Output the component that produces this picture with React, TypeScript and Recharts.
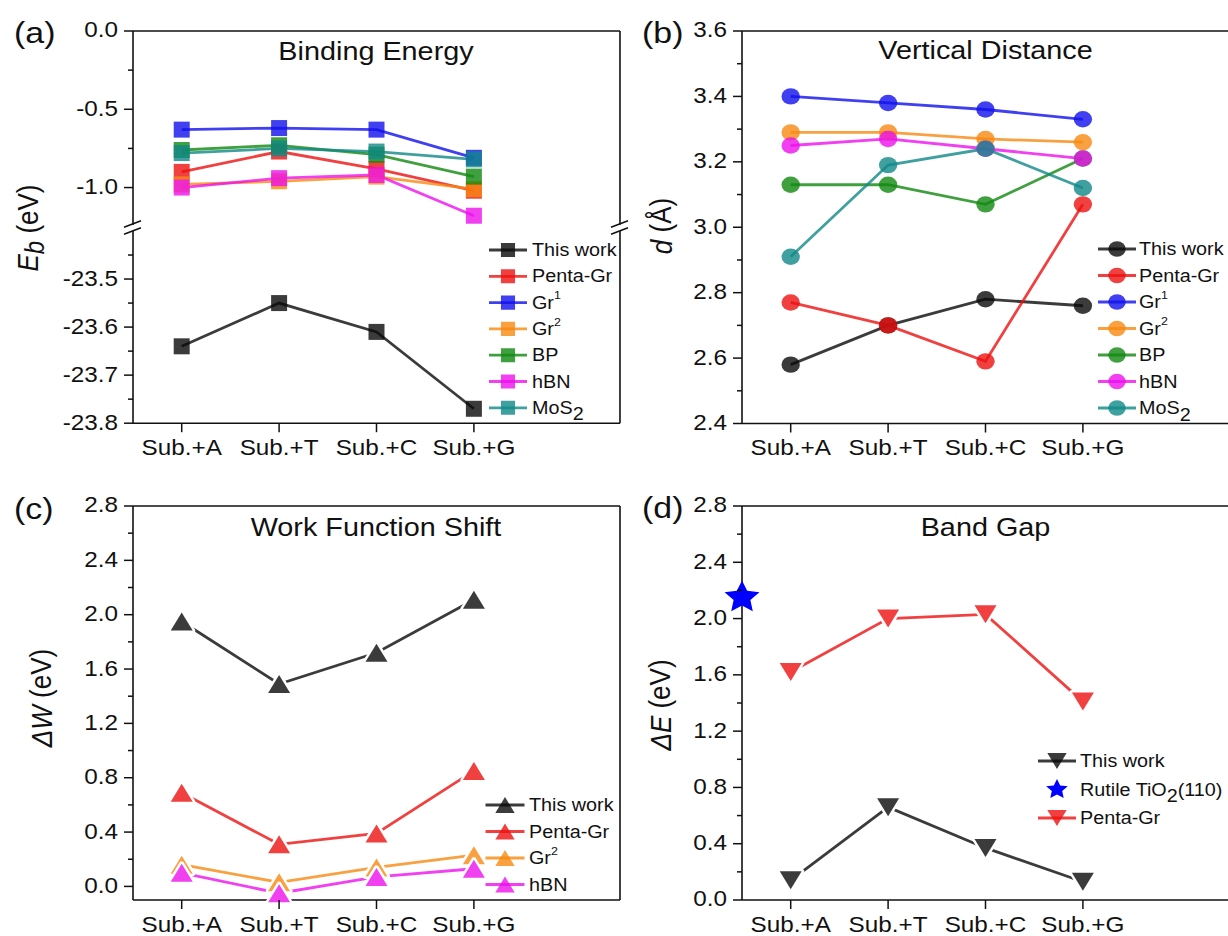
import React from 'react';
import { LineChart, Line, XAxis, YAxis, ReferenceLine, Legend } from 'recharts';

const FONT = '"Liberation Sans", Arial, Helvetica, sans-serif';
const SX = 1.13; // the source figure is stretched a bit horizontally, text too
const INK = '#111111';

const categories = ['Sub.+A', 'Sub.+T', 'Sub.+C', 'Sub.+G'];
const xPositions = [1, 2, 3, 4];

// (a) binding energy, eV
const ebThisWork = [-23.64, -23.55, -23.61, -23.77];
const ebPentaGr = [-0.9, -0.77, -0.88, -1.02];
const ebGr1 = [-0.63, -0.62, -0.63, -0.81];
const ebGr2 = [-0.98, -0.96, -0.93, -1.01];
const ebBP = [-0.76, -0.73, -0.79, -0.93];
const ebHBN = [-1.0, -0.94, -0.92, -1.18];
const ebMoS2 = [-0.78, -0.75, -0.77, -0.82];

// (b) vertical distance, angstrom
const vdThisWork = [2.58, 2.7, 2.78, 2.76];
const vdPentaGr = [2.77, 2.7, 2.59, 3.07];
const vdGr1 = [3.4, 3.38, 3.36, 3.33];
const vdGr2 = [3.29, 3.29, 3.27, 3.26];
const vdBP = [3.13, 3.13, 3.07, 3.21];
const vdHBN = [3.25, 3.27, 3.24, 3.21];
const vdMoS2 = [2.91, 3.19, 3.24, 3.12];

// (c) work function shift, eV
const wfThisWork = [1.95, 1.49, 1.72, 2.11];
const wfPentaGr = [0.69, 0.31, 0.39, 0.85];
const wfGr2 = [0.16, 0.03, 0.14, 0.23];
const wfHBN = [0.1, -0.05, 0.07, 0.13];

// (d) band gap, eV
const bgThisWork = [0.14, 0.66, 0.37, 0.13];
const bgPentaGr = [1.62, 2.0, 2.03, 1.41];
const bgRutile = [{ x: 0.5, rutile: 2.15 }];

// y ticks (all) and the labelled ones
const ebUpperTicks = [-1.0, -0.75, -0.5, -0.25, 0];
const ebUpperMajor = [-1.0, -0.5, 0];
const ebLowerTicks = [-23.8, -23.75, -23.7, -23.65, -23.6, -23.55, -23.5, -23.45];
const ebLowerMajor = [-23.8, -23.7, -23.6, -23.5];
const vdTicks = [2.4, 2.5, 2.6, 2.7, 2.8, 2.9, 3.0, 3.1, 3.2, 3.3, 3.4, 3.5, 3.6];
const vdMajor = [2.4, 2.6, 2.8, 3.0, 3.2, 3.4, 3.6];
const evTicks = [0, 0.2, 0.4, 0.6, 0.8, 1.0, 1.2, 1.4, 1.6, 1.8, 2.0, 2.2, 2.4, 2.6, 2.8];
const evMajor = [0, 0.4, 0.8, 1.2, 1.6, 2.0, 2.4, 2.8];

const COL = {
  thisWork: '#0a0a0a',
  penta: '#ec1010',
  gr1: '#1010ec',
  gr2: '#f78810',
  bp: '#108810',
  hbn: '#ec10ec',
  mos2: '#108888',
  rutile: '#0000ff',
};

type Shape = 'square' | 'circle' | 'triUp' | 'triDown' | 'star';

interface SeriesDef {
  key: string;
  label: React.ReactNode;
  color: string;
  shape: Shape;
  values?: number[];
  points?: Record<string, number>[];
  line?: boolean;
  solid?: boolean;
}

interface LegendSpec {
  items: SeriesDef[];
  markerX: number;
  textX: number;
  halfLine: number;
  firstY: number;
  step: number;
  scale: number;
}

const sup1 = (
  <>
    Gr<tspan dy={-8} fontSize={11}>1</tspan>
  </>
);
const sup2 = (
  <>
    Gr<tspan dy={-8} fontSize={11}>2</tspan>
  </>
);
const mos2Label = (
  <>
    MoS<tspan dy={6}>2</tspan>
  </>
);
const rutileLabel = (
  <>
    Rutile TiO<tspan dy={6}>2</tspan>
    <tspan dy={-6}>(110)</tspan>
  </>
);

function markerPath(shape: Shape, cx: number, cy: number, s: number) {
  if (shape === 'square') {
    const h = 8 * s;
    return `M${cx - h},${cy - h}h${2 * h}v${2 * h}h${-2 * h}Z`;
  }
  if (shape === 'triUp' || shape === 'triDown') {
    const w = 11 * s;
    const h = 9 * s;
    const d = shape === 'triUp' ? 1 : -1;
    return `M${cx},${cy - d * h}L${cx + w},${cy + d * h}L${cx - w},${cy + d * h}Z`;
  }
  // star
  const R = 17 * s;
  const r = R * 0.48;
  let p = '';
  for (let i = 0; i < 10; i++) {
    const a = -Math.PI / 2 + (i * Math.PI) / 5;
    const rr = i % 2 === 0 ? R : r;
    p += `${i === 0 ? 'M' : 'L'}${cx + rr * Math.cos(a) * 1.08},${cy + rr * Math.sin(a)}`;
  }
  return p + 'Z';
}

function Marker(props: {
  shape: Shape;
  cx?: number;
  cy?: number;
  color: string;
  scale?: number;
  halo?: boolean;
  opacity?: number;
}) {
  const { shape, cx, cy, color, scale = 1, halo = false, opacity = 0.8 } = props;
  if (cx == null || cy == null || Number.isNaN(cx) || Number.isNaN(cy)) return null;
  if (shape === 'circle') {
    return (
      <g>
        {halo && <ellipse cx={cx} cy={cy} rx={9.2 * scale} ry={8.2 * scale} fill="#fff" stroke="#fff" strokeWidth={5} />}
        <ellipse cx={cx} cy={cy} rx={9.2 * scale} ry={8.2 * scale} fill={color} fillOpacity={opacity} />
      </g>
    );
  }
  const d = markerPath(shape, cx, cy, scale);
  return (
    <g>
      {halo && <path d={d} fill="#fff" stroke="#fff" strokeWidth={5} strokeLinejoin="round" />}
      <path d={d} fill={color} fillOpacity={opacity} />
    </g>
  );
}

function YTick(props: any) {
  const { x, y, payload, majors } = props;
  const v = payload.value as number;
  const major = majors.some((m: number) => Math.abs(m - v) < 1e-6);
  return (
    <g>
      <line x1={x} x2={x - (major ? 9 : 5)} y1={y} y2={y} stroke={INK} strokeWidth={1.5} />
      {major && (
        <text
          transform={`translate(${x - 15} ${y - 1}) scale(${SX} 1)`}
          textAnchor="end"
          dominantBaseline="central"
          fontSize={21.5}
          fontFamily={FONT}
          fill={INK}
        >
          {v.toFixed(1)}
        </text>
      )}
    </g>
  );
}

function XTick(props: any) {
  const { x, y, payload } = props;
  return (
    <g>
      <line x1={x} x2={x} y1={y} y2={y + 9} stroke={INK} strokeWidth={1.5} />
      <text
        transform={`translate(${x} ${y + 31.7}) scale(${SX} 1)`}
        textAnchor="middle"
        fontSize={21.5}
        fontFamily={FONT}
        fill={INK}
      >
        {categories[payload.value - 1]}
      </text>
    </g>
  );
}

const PAD_L = 140;
const PAD_T = 20;
const PAD_R = 20;
const PAD_B = 60;
const X_AXIS_H = 50;

function LegendBlock({ spec }: { spec: LegendSpec }) {
  const ox = 26;
  const oy = 16;
  const h = oy * 2 + spec.step * (spec.items.length - 1);
  return (
    <svg width={300} height={h} style={{ display: 'block', overflow: 'visible' }}>
      {spec.items.map((it, i) => {
        const cy = oy + i * spec.step;
        return (
          <g key={it.key}>
            {it.line !== false && (
              <line
                x1={ox - spec.halfLine}
                x2={ox + spec.halfLine}
                y1={cy}
                y2={cy}
                stroke={it.color}
                strokeOpacity={0.8}
                strokeWidth={2.8}
              />
            )}
            <Marker
              shape={it.shape}
              cx={ox}
              cy={cy}
              color={it.color}
              scale={it.shape === 'star' ? 0.62 : spec.scale}
              opacity={it.solid ? 1 : 0.8}
            />
            <text
              transform={`translate(${ox + spec.textX - spec.markerX} ${cy}) scale(${SX} 1)`}
              fontFamily={FONT}
              fontSize={17.5}
              dominantBaseline="central"
              fill={INK}
            >
              {it.label}
            </text>
          </g>
        );
      })}
    </svg>
  );
}

interface PanelProps {
  box: { x0: number; y0: number; x1: number; y1: number };
  domain: [number, number];
  ticks: number[];
  majors: number[];
  series: SeriesDef[];
  xAxis: boolean;
  frameTop: boolean;
  halo?: boolean;
  legend?: LegendSpec;
}

function Panel({ box, domain, ticks, majors, series, xAxis, frameTop, halo = false, legend }: PanelProps) {
  const left = box.x0 - PAD_L;
  const top = box.y0 - PAD_T;
  const width = box.x1 - box.x0 + PAD_L + PAD_R;
  const height = box.y1 - box.y0 + PAD_T + PAD_B;
  const data = xPositions.map((x, i) => {
    const row: Record<string, number> = { x };
    series.forEach(s => {
      if (s.values) row[s.key] = s.values[i];
    });
    return row;
  });
  const legendH = legend ? 32 + legend.step * (legend.items.length - 1) : 0;

  return (
    <div style={{ position: 'absolute', left, top, width, height }}>
      <LineChart
        width={width}
        height={height}
        data={data}
        margin={{ top: PAD_T, right: PAD_R, bottom: xAxis ? PAD_B - X_AXIS_H : PAD_B, left: 0 }}
      >
        <XAxis
          dataKey="x"
          type="number"
          domain={[0.5, 5.5]}
          ticks={xPositions}
          interval={0}
          hide={!xAxis}
          height={X_AXIS_H}
          tickSize={0}
          tickMargin={0}
          tickLine={false}
          axisLine={{ stroke: INK, strokeWidth: 1.6 }}
          tick={(p: any) => <XTick {...p} />}
        />
        <YAxis
          type="number"
          domain={domain}
          ticks={ticks}
          interval={0}
          width={PAD_L}
          tickSize={0}
          tickMargin={0}
          tickLine={false}
          axisLine={{ stroke: INK, strokeWidth: 1.6 }}
          tick={(p: any) => <YTick {...p} majors={majors} />}
        />
        {frameTop && <ReferenceLine y={domain[1]} stroke={INK} strokeWidth={1.6} />}
        <ReferenceLine x={5.5} stroke={INK} strokeWidth={1.6} />
        {series.map(s => (
          <Line
            key={s.key}
            dataKey={s.key}
            data={s.points}
            type="linear"
            stroke={s.line === false ? 'none' : s.color}
            strokeOpacity={0.8}
            strokeWidth={2.8}
            activeDot={false}
            isAnimationActive={false}
            dot={(p: any) => (
              <Marker
                key={`${s.key}-${p.index}`}
                shape={s.shape}
                cx={p.cx}
                cy={p.cy}
                color={s.color}
                halo={halo && s.line !== false}
                opacity={s.solid ? 1 : 0.8}
              />
            )}
          />
        ))}
        {legend && (
          <Legend
            layout="vertical"
            align="center"
            verticalAlign="middle"
            wrapperStyle={{
              left: legend.markerX - 26 - left,
              top: legend.firstY - 16 - top,
              width: 300,
              height: legendH,
              margin: 0,
              padding: 0,
            }}
            content={() => <LegendBlock spec={legend} />}
          />
        )}
      </LineChart>
    </div>
  );
}

function SText(props: { x: number; y: number; size: number; anchor?: string; children: React.ReactNode }) {
  const { x, y, size, anchor = 'start', children } = props;
  return (
    <text
      transform={`translate(${x} ${y}) scale(${SX} 1)`}
      fontSize={size}
      textAnchor={anchor as any}
      fontFamily={FONT}
      fill={INK}
    >
      {children}
    </text>
  );
}

function VText(props: { x: number; y: number; children: React.ReactNode }) {
  return (
    <text
      transform={`translate(${props.x} ${props.y}) rotate(-90) scale(1 ${SX})`}
      fontSize={26}
      textAnchor="middle"
      dominantBaseline="central"
      fontFamily={FONT}
      fill={INK}
    >
      {props.children}
    </text>
  );
}

function BreakMark({ x, y1, y2 }: { x: number; y1: number; y2: number }) {
  return (
    <g stroke={INK} strokeWidth={1.5}>
      <rect x={x - 3} y={y1 + 0.8} width={6} height={y2 - y1 - 1.6} fill="#fff" stroke="none" />
      <line x1={x - 8.5} y1={y1 + 3.3} x2={x + 8.5} y2={y1 - 3.3} />
      <line x1={x - 8.5} y1={y2 + 3.3} x2={x + 8.5} y2={y2 - 3.3} />
    </g>
  );
}

const A_UP = { x0: 132.5, y0: 31, x1: 619.5, y1: 226.7 };
const A_LO = { x0: 132.5, y0: 231.3, x1: 619.5, y1: 423.5 };
const B_BOX = { x0: 742, y0: 31, x1: 1229, y1: 423.5 };
const C_BOX = { x0: 132.5, y0: 506.3, x1: 619.5, y1: 900.3 };
const D_BOX = { x0: 742, y0: 506.3, x1: 1229, y1: 900.3 };

export default function App() {
  const ebSeries: SeriesDef[] = [
    { key: 'thisWork', label: 'This work', color: COL.thisWork, shape: 'square', values: ebThisWork },
    { key: 'penta', label: 'Penta-Gr', color: COL.penta, shape: 'square', values: ebPentaGr },
    { key: 'gr1', label: sup1, color: COL.gr1, shape: 'square', values: ebGr1 },
    { key: 'gr2', label: sup2, color: COL.gr2, shape: 'square', values: ebGr2 },
    { key: 'bp', label: 'BP', color: COL.bp, shape: 'square', values: ebBP },
    { key: 'hbn', label: 'hBN', color: COL.hbn, shape: 'square', values: ebHBN },
    { key: 'mos2', label: mos2Label, color: COL.mos2, shape: 'square', values: ebMoS2 },
  ];
  const vdSeries: SeriesDef[] = [
    { key: 'thisWork', label: 'This work', color: COL.thisWork, shape: 'circle', values: vdThisWork },
    { key: 'penta', label: 'Penta-Gr', color: COL.penta, shape: 'circle', values: vdPentaGr },
    { key: 'gr1', label: sup1, color: COL.gr1, shape: 'circle', values: vdGr1 },
    { key: 'gr2', label: sup2, color: COL.gr2, shape: 'circle', values: vdGr2 },
    { key: 'bp', label: 'BP', color: COL.bp, shape: 'circle', values: vdBP },
    { key: 'hbn', label: 'hBN', color: COL.hbn, shape: 'circle', values: vdHBN },
    { key: 'mos2', label: mos2Label, color: COL.mos2, shape: 'circle', values: vdMoS2 },
  ];
  const wfSeries: SeriesDef[] = [
    { key: 'thisWork', label: 'This work', color: COL.thisWork, shape: 'triUp', values: wfThisWork },
    { key: 'penta', label: 'Penta-Gr', color: COL.penta, shape: 'triUp', values: wfPentaGr },
    { key: 'gr2', label: sup2, color: COL.gr2, shape: 'triUp', values: wfGr2 },
    { key: 'hbn', label: 'hBN', color: COL.hbn, shape: 'triUp', values: wfHBN },
  ];
  const bgSeries: SeriesDef[] = [
    { key: 'thisWork', label: 'This work', color: COL.thisWork, shape: 'triDown', values: bgThisWork },
    {
      key: 'rutile',
      label: rutileLabel,
      color: COL.rutile,
      shape: 'star',
      points: bgRutile,
      line: false,
      solid: true,
    },
    { key: 'penta', label: 'Penta-Gr', color: COL.penta, shape: 'triDown', values: bgPentaGr },
  ];

  return (
    <div
      style={{
        position: 'absolute',
        left: 0,
        top: 0,
        width: 1228,
        height: 936,
        overflow: 'hidden',
        background: '#fff',
        fontFamily: FONT,
      }}
    >
      <Panel
        box={A_UP}
        domain={[-1.25, 0]}
        ticks={ebUpperTicks}
        majors={ebUpperMajor}
        series={ebSeries.slice(1)}
        xAxis={false}
        frameTop
      />
      <Panel
        box={A_LO}
        domain={[-23.8, -23.4]}
        ticks={ebLowerTicks}
        majors={ebLowerMajor}
        series={ebSeries.slice(0, 1)}
        xAxis
        frameTop={false}
        legend={{ items: ebSeries, markerX: 508, textX: 532, halfLine: 19, firstY: 250, step: 26.3, scale: 0.88 }}
      />
      <Panel
        box={B_BOX}
        domain={[2.4, 3.6]}
        ticks={vdTicks}
        majors={vdMajor}
        series={vdSeries}
        xAxis
        frameTop
        legend={{ items: vdSeries, markerX: 1117, textX: 1139, halfLine: 19, firstY: 249, step: 26.5, scale: 0.95 }}
      />
      <Panel
        box={C_BOX}
        domain={[-0.1, 2.8]}
        ticks={evTicks}
        majors={evMajor}
        series={wfSeries}
        xAxis
        frameTop
        halo
        legend={{ items: wfSeries, markerX: 505, textX: 529, halfLine: 19.5, firstY: 805, step: 26.5, scale: 0.88 }}
      />
      <Panel
        box={D_BOX}
        domain={[0, 2.8]}
        ticks={evTicks}
        majors={evMajor}
        series={bgSeries}
        xAxis
        frameTop
        halo
        legend={{ items: bgSeries, markerX: 1057, textX: 1080, halfLine: 19, firstY: 761, step: 28.5, scale: 0.88 }}
      />

      <svg
        width={1228}
        height={936}
        style={{ position: 'absolute', left: 0, top: 0, pointerEvents: 'none' }}
      >
        <SText x={14} y={43} size={30}>(a)</SText>
        <SText x={642} y={43} size={30}>(b)</SText>
        <SText x={14} y={519} size={30}>(c)</SText>
        <SText x={642} y={518} size={30}>(d)</SText>

        <SText x={376} y={60} size={25.5} anchor="middle">Binding Energy</SText>
        <SText x={985.5} y={59} size={25.5} anchor="middle">Vertical Distance</SText>
        <SText x={376} y={536} size={25.5} anchor="middle">Work Function Shift</SText>
        <SText x={985.5} y={536} size={25.5} anchor="middle">Band Gap</SText>

        <VText x={27} y={228}>
          <tspan fontStyle="italic">E</tspan>
          <tspan fontStyle="italic" dy={7} fontSize={24}>b</tspan>
          <tspan dy={-7}> (eV)</tspan>
        </VText>
        <VText x={661} y={226}>
          <tspan fontStyle="italic">d</tspan> (Å)
        </VText>
        <VText x={41} y={698}>
          <tspan fontStyle="italic">ΔW</tspan> (eV)
        </VText>
        <VText x={660} y={705}>
          <tspan fontStyle="italic">ΔE</tspan> (eV)
        </VText>

        <BreakMark x={132.5} y1={224} y2={231} />
        <BreakMark x={619.5} y1={224} y2={231} />
      </svg>
    </div>
  );
}
